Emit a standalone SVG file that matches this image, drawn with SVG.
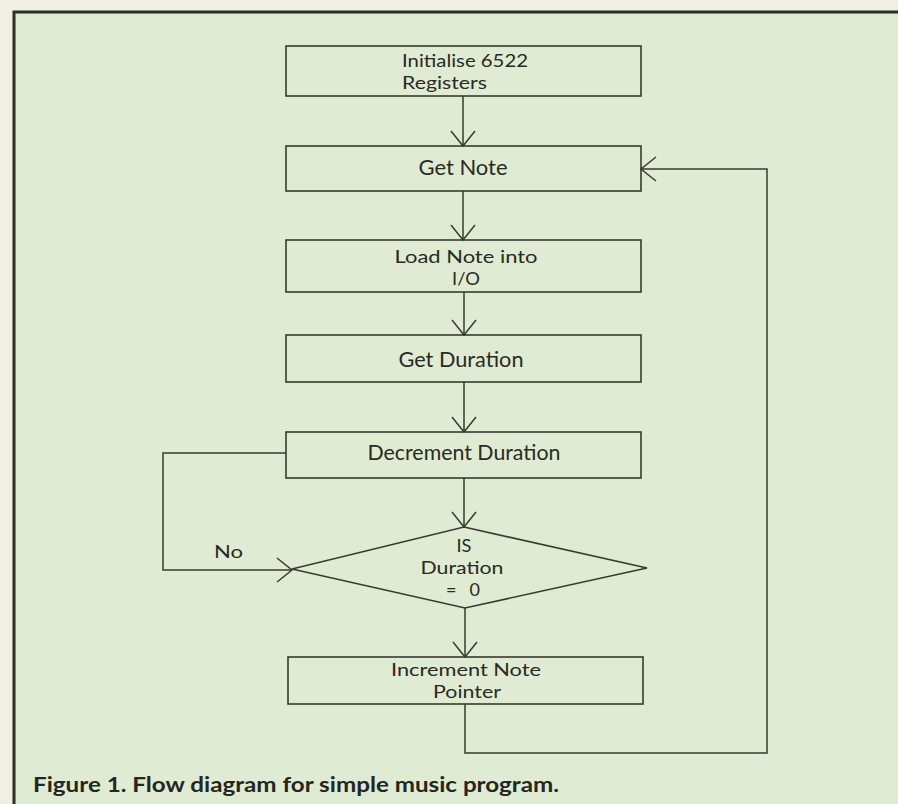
<svg xmlns="http://www.w3.org/2000/svg" width="898" height="804" viewBox="0 0 898 804">
  <defs>
    <style>
      .box { fill: none; stroke: #3a3a32; stroke-width: 1.6; }
      .conn { fill: none; stroke: #3a3a32; stroke-width: 1.5; stroke-linejoin: miter; }
      .t { font-family: Lato, "Open Sans", "Liberation Sans", sans-serif; fill: #2a2a22; }
      .s { font-size: 18px; }
      .l { font-size: 21.5px; }
      .c { text-anchor: middle; }
      .cap { font-family: Lato, "Open Sans", "Liberation Sans", sans-serif; font-weight: bold; font-size: 21px; fill: #262620; }
    </style>
    <marker id="arr" markerUnits="userSpaceOnUse" markerWidth="40" markerHeight="40" refX="0" refY="0" viewBox="-20 -20 40 40" orient="auto">
      <path d="M-15,-12 L0,0 L-15,12" fill="none" stroke="#3a3a32" stroke-width="1.5"/>
    </marker>
  </defs>

  <rect x="0" y="0" width="898" height="804" fill="#f1efe3"/>
  <rect x="14" y="12" width="884" height="792" fill="#dfebd2"/>
  <path d="M14,804 V12 H898" fill="none" stroke="#2e2e28" stroke-width="3"/>

  <g id="connectors">
    <path class="conn" d="M463,96 V146" marker-end="url(#arr)"/>
    <path class="conn" d="M463,191 V240" marker-end="url(#arr)"/>
    <path class="conn" d="M464,292 V335" marker-end="url(#arr)"/>
    <path class="conn" d="M464,382 V432" marker-end="url(#arr)"/>
    <path class="conn" d="M464,478 V527" marker-end="url(#arr)"/>
    <path class="conn" d="M465,608 V657" marker-end="url(#arr)"/>
    <path class="conn" d="M286,453 H163 V570 H292" marker-end="url(#arr)"/>
    <path class="conn" d="M465,704 V753 H767 V169 H641" marker-end="url(#arr)"/>
    <text class="t s" x="214" y="558" textLength="29" lengthAdjust="spacingAndGlyphs">No</text>
  </g>

  <g id="n1">
    <rect class="box" x="286" y="46" width="355" height="50"/>
    <text class="t s" x="402" y="67" textLength="126" lengthAdjust="spacingAndGlyphs">Initialise 6522</text>
    <text class="t s" x="402" y="89" textLength="85" lengthAdjust="spacingAndGlyphs">Registers</text>
  </g>
  <g id="n2">
    <rect class="box" x="286" y="146" width="355" height="45"/>
    <text class="t l c" x="463" y="175" textLength="89" lengthAdjust="spacingAndGlyphs">Get Note</text>
  </g>
  <g id="n3">
    <rect class="box" x="286" y="240" width="355" height="52"/>
    <text class="t s c" x="466" y="263" textLength="143" lengthAdjust="spacingAndGlyphs">Load Note into</text>
    <text class="t s c" x="466" y="285" textLength="28" lengthAdjust="spacingAndGlyphs">I/O</text>
  </g>
  <g id="n4">
    <rect class="box" x="286" y="335" width="355" height="47"/>
    <text class="t l c" x="461" y="367" textLength="125" lengthAdjust="spacingAndGlyphs">Get Duration</text>
  </g>
  <g id="n5">
    <rect class="box" x="286" y="432" width="355" height="46"/>
    <text class="t l c" x="464" y="460" textLength="193" lengthAdjust="spacingAndGlyphs">Decrement Duration</text>
  </g>
  <g id="n6">
    <polygon class="box" points="464,527 647,568 465,608 292,569"/>
    <text class="t s c" x="464" y="552" textLength="15" lengthAdjust="spacingAndGlyphs">IS</text>
    <text class="t s c" x="462" y="574" textLength="83" lengthAdjust="spacingAndGlyphs">Duration</text>
    <text class="t s c" x="463" y="596" textLength="34" lengthAdjust="spacing">= 0</text>
  </g>
  <g id="n7">
    <rect class="box" x="288" y="657" width="355" height="47"/>
    <text class="t s c" x="466" y="676" textLength="150" lengthAdjust="spacingAndGlyphs">Increment Note</text>
    <text class="t s c" x="467" y="698" textLength="68" lengthAdjust="spacingAndGlyphs">Pointer</text>
  </g>

  <text class="cap" x="33" y="792" textLength="526" lengthAdjust="spacingAndGlyphs">Figure 1. Flow diagram for simple music program.</text>
</svg>
